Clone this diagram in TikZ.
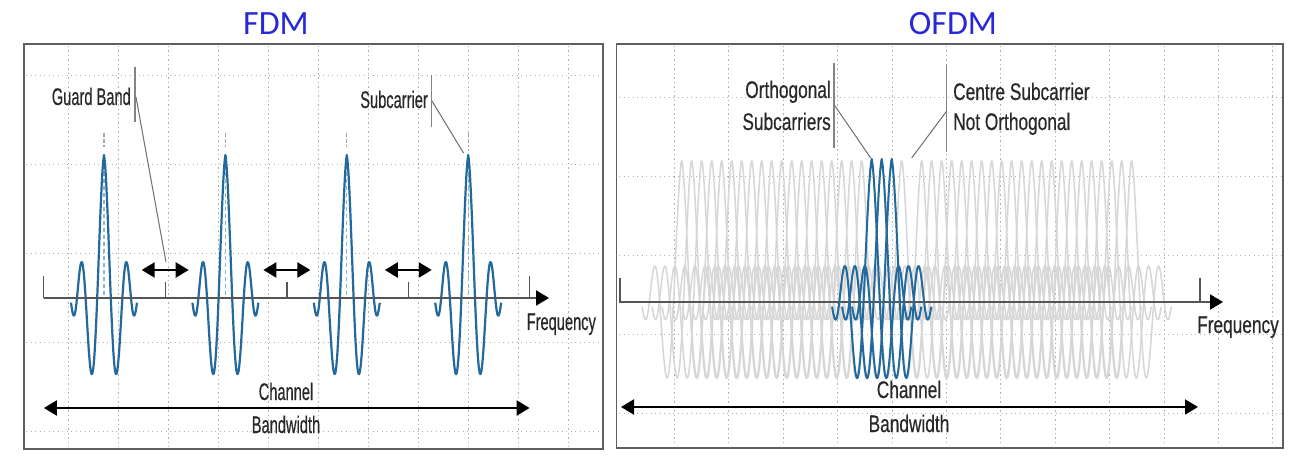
\documentclass[tikz,border=0pt]{standalone}
\usepackage{fontspec}
\setmainfont{Liberation Sans}
\newfontfamily\titlefont{Carlito}
\newfontfamily\condL[FakeStretch=0.61,FakeBold=0.4]{Liberation Sans}
\newfontfamily\condR[FakeStretch=0.72,FakeBold=0.4]{Liberation Sans}
\usetikzlibrary{arrows.meta}

\definecolor{titleblue}{RGB}{40,40,215}
\definecolor{waveblue}{RGB}{35,105,155}
\definecolor{wavegray}{RGB}{214,214,214}
\definecolor{gridgray}{RGB}{175,175,175}
\definecolor{framegray}{RGB}{95,95,95}
\definecolor{axisgray}{RGB}{85,85,85}
\definecolor{txtgray}{RGB}{40,40,40}
\definecolor{dashblue}{RGB}{140,180,215}
\definecolor{leadgray}{RGB}{110,110,110}

\begin{document}
\begin{tikzpicture}[x=1pt,y=-1pt,
  declare function={sw(\x)=143*exp(-0.37*abs(\x)-0.105*\x*\x)*cos(130*\x+5.022*\x*\x*\x);},
  gridline/.style={gridgray,line width=0.9pt,dash pattern=on 1.2pt off 3.3pt},
  framebox/.style={framegray,line width=1.5pt},
  axisline/.style={axisgray,line width=2pt},
  axistip/.style={-{Triangle[length=13pt,width=15pt]},black},
  twotip/.style={{Triangle[length=13pt,width=15pt]}-{Triangle[length=13pt,width=15pt]},black,line width=2.3pt},
  tickline/.style={axisgray,line width=1.2pt},
  fdmwave/.style={waveblue,line width=2.2pt,line join=round},
  bluewave/.style={waveblue,line width=2pt,line join=round},
  graywave/.style={wavegray,line width=1.5pt,line join=round},
  leader/.style={leadgray,line width=1pt},
  barline/.style={leadgray!85,line width=1.2pt},
  lblL/.style={inner sep=0pt,text=txtgray,font=\condL\fontsize{24}{28}\selectfont},
  lblR/.style={inner sep=0pt,text=txtgray,font=\condR\fontsize{24}{28}\selectfont},
  ttl/.style={inner sep=0pt,anchor=base,text=titleblue,font=\titlefont\fontsize{34}{40}\selectfont}]

\useasboundingbox (0,0) rectangle (1310,465);
\fill[white] (0,0) rectangle (1310,465);

% titles
\node[ttl] (tfdm) at (276,35) {FDM};
\node[ttl] (tofdm) at (953,35) {OFDM};

% ---------------- left panel ----------------
\foreach \k in {0,...,10} \draw[gridline] ({68.3+50*\k},46) -- ({68.3+50*\k},447);
\foreach \gy in {75,164,253,342,431} \draw[gridline] (26,\gy) -- (602,\gy);
\draw[framebox] (24,44) rectangle (603,449);

\foreach \c in {104,225.4,346.8,468.2}{
  \draw[dashblue,line width=1.2pt,dash pattern=on 4pt off 3pt] (\c,158) -- (\c,298);
  \draw[gray!70,line width=1.2pt,dash pattern=on 4pt off 2pt] (\c,133) -- (\c,147);
  \draw[fdmwave] plot[domain=-3.3:3.3,samples=121,variable=\t] ({\c+10*\t},{298-sw(\t)});
}

\coordinate (la0) at (43.8,298);
\coordinate (la1) at (549,298);
\draw[axisline] (la0) -- (536,298);
\draw[axistip,line width=2pt] (536,298) -- (la1);
\foreach \tx/\ty in {43.8/276,165.2/282,287/282,408.3/282,529.6/276}
  \draw[tickline] (\tx,\ty) -- (\tx,298);

\foreach \m [count=\i] in {165.2,286.9,408.3}{
  \coordinate (ga\i) at ({\m-23.5},270);
  \coordinate (gb\i) at ({\m+23.5},270);
  \draw[twotip] (ga\i) -- (gb\i);
}

\coordinate (lbw0) at (43.8,408);
\coordinate (lbw1) at (529.6,408);
\draw[twotip,line width=2pt] (lbw0) -- (lbw1);

\node[lblL,anchor=base east] (guard) at (131,105) {Guard Band};
\coordinate (gbar0) at (135,67);
\coordinate (gbar1) at (135,122);
\draw[barline] (gbar0) -- (gbar1);
\coordinate (gl0) at (136,97);
\coordinate (gl1) at (166,262);
\draw[leader] (gl0) -- (gl1);

\node[lblL,anchor=base east] (subc) at (428,108) {Subcarrier};
\coordinate (sbar0) at (431.7,75);
\coordinate (sbar1) at (431.7,127);
\draw[barline] (sbar0) -- (sbar1);
\coordinate (sl0) at (432,101);
\coordinate (sl1) at (463.5,153);
\draw[leader] (sl0) -- (sl1);

\node[lblL,anchor=base west] (freqL) at (526.5,330) {Frequency};
\node[lblL,anchor=base] (chL) at (286,400) {Channel};
\node[lblL,anchor=base] (bwL) at (286,433) {Bandwidth};

% ---------------- right panel ----------------
\foreach \k in {0,...,11} \draw[gridline] ({674.5+54.4*\k},46) -- ({674.5+54.4*\k},446);
\foreach \gy in {97,176,255,334,413} \draw[gridline] (619,\gy) -- (1281,\gy);
\draw[framebox] (616.7,44) rectangle (1283,448);

\foreach \k in {-23,...,-1,1,2,...,22}
  \draw[graywave] plot[domain=-3.3:3.3,samples=100,variable=\t] ({911.7+10*\k+12*\t},{302-sw(\t)});

\coordinate (ra0) at (619,302);
\coordinate (ra1) at (1223,302);
\draw[axisline] (ra0) -- (1210,302);
\draw[axistip,line width=2pt] (1210,302) -- (ra1);
\draw[tickline] (620,278) -- (620,302);
\draw[tickline] (1200,278) -- (1200,302);

\foreach \k in {-4,-3,-2}
  \draw[bluewave] plot[domain=-3.3:3.3,samples=121,variable=\t] ({911.7+10*\k+12*\t},{302-sw(\t)});

\coordinate (rbw0) at (621,407);
\coordinate (rbw1) at (1198,407);
\draw[twotip,line width=2pt] (rbw0) -- (rbw1);

\node[lblR,anchor=base east] (orth1) at (831,98) {Orthogonal};
\node[lblR,anchor=base east] (orth2) at (831,130) {Subcarriers};
\coordinate (obar0) at (834,63);
\coordinate (obar1) at (834,148);
\draw[barline] (obar0) -- (obar1);
\coordinate (ol0) at (835,106);
\coordinate (ol1) at (870.7,158);
\draw[leader] (ol0) -- (ol1);

\node[lblR,anchor=base west] (cen1) at (953,100) {Centre Subcarrier};
\node[lblR,anchor=base west] (cen2) at (953,130) {Not Orthogonal};
\coordinate (cbar0) at (946.7,65);
\coordinate (cbar1) at (946.7,152);
\draw[barline] (cbar0) -- (cbar1);
\coordinate (cl0) at (946.7,111);
\coordinate (cl1) at (911.7,158);
\draw[leader] (cl0) -- (cl1);

\node[lblR,anchor=base west] (freqR) at (1197,333) {Frequency};
\node[lblR,anchor=base] (chR) at (909,398) {Channel};
\node[lblR,anchor=base] (bwR) at (909,432) {Bandwidth};
\end{tikzpicture}
\end{document}
